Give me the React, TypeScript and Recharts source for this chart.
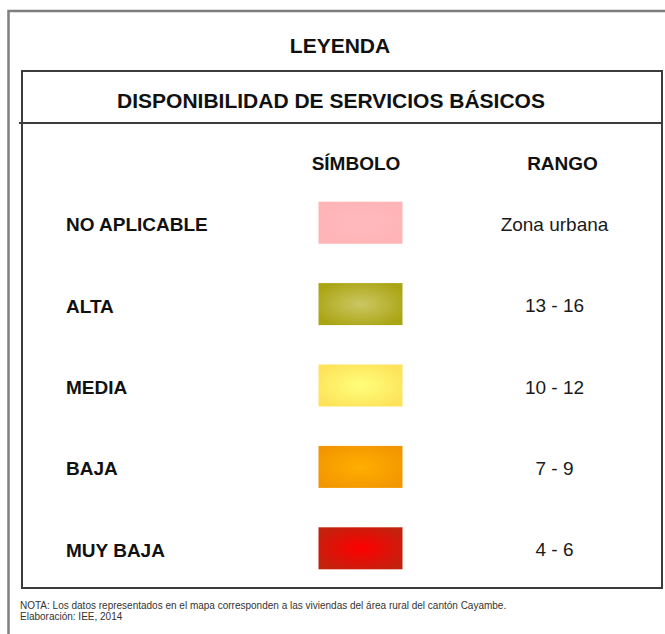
import React from "react";
import { ScatterChart, Scatter, XAxis, YAxis } from "recharts";

// ---- data ----
const niveles = ["NO APLICABLE", "ALTA", "MEDIA", "BAJA", "MUY BAJA"];
const rangos = ["Zona urbana", "13 - 16", "10 - 12", "7 - 9", "4 - 6"];
const columnas = ["CLASE", "SÍMBOLO", "RANGO"];
const titulo = "LEYENDA";
const subtitulo = "DISPONIBILIDAD DE SERVICIOS BÁSICOS";
const notas = [
  "NOTA: Los datos representados en el mapa corresponden a las viviendas del área rural del cantón Cayambe.",
  "Elaboración: IEE, 2014",
];

// ---- styles ----
const colores = [
  { centro: "#ffbabd", borde: "#ffb4b7" },
  { centro: "#cdc763", borde: "#a9a412" },
  { centro: "#ffff7a", borde: "#fde25a" },
  { centro: "#ffae00", borde: "#f29600" },
  { centro: "#ff0000", borde: "#c2220e" },
];

const W = 665;
const H = 634;
const FONT = "'Liberation Sans', Arial, Helvetica, sans-serif";

const celdas = niveles.flatMap((n, i) =>
  columnas.map((c) => ({ col: c, nivel: n, idx: i, rango: rangos[i] }))
);

const Celda = (props: any) => {
  const { cx, cy, payload } = props;
  if (cx == null || cy == null || !payload) return null;
  if (payload.col === "CLASE") {
    return (
      <text x={cx - 95.5} y={cy + 8.5} fontFamily={FONT} fontWeight="bold" fontSize={19} fill="#111">
        {payload.nivel}
      </text>
    );
  }
  if (payload.col === "SÍMBOLO") {
    const c = colores[payload.idx];
    const id = `grad${payload.idx}`;
    return (
      <g>
        <defs>
          <radialGradient id={id} cx="50%" cy="50%" r="60%">
            <stop offset="0%" stopColor={c.centro} />
            <stop offset="100%" stopColor={c.borde} />
          </radialGradient>
        </defs>
        <rect x={cx - 42} y={cy - 21} width={84} height={42} fill={`url(#${id})`} />
      </g>
    );
  }
  return (
    <text x={cx - 5} y={cy + 8} textAnchor="middle" fontFamily={FONT} fontSize={19} fill="#1a1a1a">
      {payload.rango}
    </text>
  );
};

const Encabezado = (props: any) => {
  const { x, payload } = props;
  const v = payload?.value;
  if (!v || v === "CLASE") return null;
  const dx = v === "RANGO" ? 3 : -4.5;
  return (
    <text x={x + dx} y={170} textAnchor="middle" fontFamily={FONT} fontWeight="bold" fontSize={19} fill="#111">
      {v}
    </text>
  );
};

export default function App() {
  return (
    <div style={{ position: "absolute", left: 0, top: 0, width: W, height: H, background: "#fff" }}>
      <ScatterChart width={W} height={H} margin={{ top: 152, right: 6, bottom: 45, left: 62 }}>
        <g>
          <path d={`M 8.5 ${H + 5} L 8.5 11 L ${W + 5} 11`} fill="none" stroke="#7f7f7f" strokeWidth={2.5} />
          <rect x={22} y={71} width={640} height={517} fill="none" stroke="#3c3c3c" strokeWidth={2} />
          <line x1={19} y1={123} x2={662} y2={123} stroke="#3c3c3c" strokeWidth={2} />
          <text x={340} y={52.5} textAnchor="middle" fontFamily={FONT} fontWeight="bold" fontSize={21} fill="#111">
            {titulo}
          </text>
          <text x={331} y={107.5} textAnchor="middle" fontFamily={FONT} fontWeight="bold" fontSize={21} fill="#111">
            {subtitulo}
          </text>
          {notas.map((t, i) => (
            <text key={i} x={20} y={608.5 + i * 11} fontFamily={FONT} fontSize={10} fill="#333">
              {t}
            </text>
          ))}
        </g>
        <XAxis
          type="category"
          dataKey="col"
          orientation="top"
          allowDuplicatedCategory={false}
          axisLine={false}
          tickLine={false}
          interval={0}
          height={30}
          tick={<Encabezado />}
        />
        <YAxis type="category" dataKey="nivel" allowDuplicatedCategory={false} reversed hide width={0} />
        <Scatter data={celdas} shape={<Celda />} isAnimationActive={false} />
      </ScatterChart>
    </div>
  );
}
